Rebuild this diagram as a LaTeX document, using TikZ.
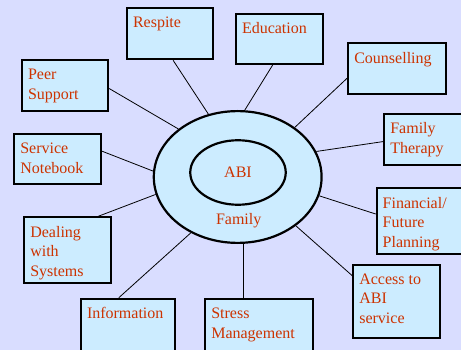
\documentclass[tikz,border=0pt]{standalone}
\usepackage{fontspec}
\setmainfont{Liberation Serif}
\usetikzlibrary{shapes.geometric}
\definecolor{slide}{RGB}{217,221,255}
\definecolor{cyanbox}{RGB}{204,236,255}
\definecolor{labelred}{RGB}{204,51,0}
\newcommand{\boxtext}[3]{\parbox[c][#2][t]{#1}{\raggedright #3}}

\begin{document}
\begin{tikzpicture}[
  x=1pt, y=-1pt,
  topic/.style={rectangle, draw, line width=2pt, fill=cyanbox, anchor=north west, inner xsep=6pt, inner ysep=9pt, text=labelred, font=\fontsize{16}{19.5}\selectfont},
  ring/.style={ellipse, draw, line width=2.2pt, fill=cyanbox, text=labelred, font=\fontsize{16}{19.5}\selectfont, inner sep=0pt},
  lbl/.style={text=labelred, font=\fontsize{16}{19.5}\selectfont},
  spoke/.style={line width=0.8pt}
]
  \path[use as bounding box, fill=slide] (0,0) rectangle (461,350);
  \clip (0,0) rectangle (461,350);

  \node[ring, minimum width=167.8pt, minimum height=131.8pt] (family) at (237.7,177) {};
  \node[ring, minimum width=95.5pt, minimum height=64.5pt] (abi) at (238,172.5) {ABI};
  \node[lbl] (famlabel) at (238.7,221) {Family};

  \node[topic] (respite) at (126,7.3) {\boxtext{73.7pt}{33pt}{Respite}};
  \node[topic] (education) at (235,12.7) {\boxtext{74.7pt}{32pt}{Education}};
  \node[topic] (counselling) at (347.3,42) {\boxtext{85.7pt}{32.7pt}{Counselling}};
  \node[topic] (therapy) at (383.3,112.7) {\boxtext{76pt}{33pt}{Family\\Therapy}};
  \node[topic] (financial) at (375.7,187.3) {\boxtext{76pt}{47.7pt}{Financial/\\Future\\Planning}};
  \node[topic] (access) at (352.3,263.7) {\boxtext{74.7pt}{55.3pt}{Access to\\ABI\\service}};
  \node[topic] (stress) at (204.3,298) {\boxtext{95.7pt}{40pt}{Stress\\Management}};
  \node[topic] (info) at (80,297.7) {\boxtext{82pt}{40pt}{Information}};
  \node[topic] (dealing) at (23.3,216.3) {\boxtext{74.7pt}{48pt}{Dealing\\with\\Systems}};
  \node[topic] (notebook) at (13.3,133) {\boxtext{74.7pt}{32pt}{Service\\Notebook}};
  \node[topic] (peer) at (21,59.3) {\boxtext{74.3pt}{32.4pt}{Peer\\Support}};

  \draw[spoke] (respite.-83) -- (family.115);
  \draw[spoke] (education.-104) -- (family.84);
  \draw[spoke] (counselling.191) -- (family.41);
  \draw[spoke] (therapy.183) -- (family.18);
  \draw[spoke] (financial.171) -- (family.-13);
  \draw[spoke] (access.150) -- (family.-40);
  \draw[spoke] (family.-85) -- (family.-85 |- stress.north);
  \draw[spoke] (info.107) -- (family.230);
  \draw[spoke] (dealing.48) -- (family.192);
  \draw[spoke] (notebook.10) -- (family.176);
  \draw[spoke] (peer.-4) -- (family.141);
\end{tikzpicture}
\end{document}
